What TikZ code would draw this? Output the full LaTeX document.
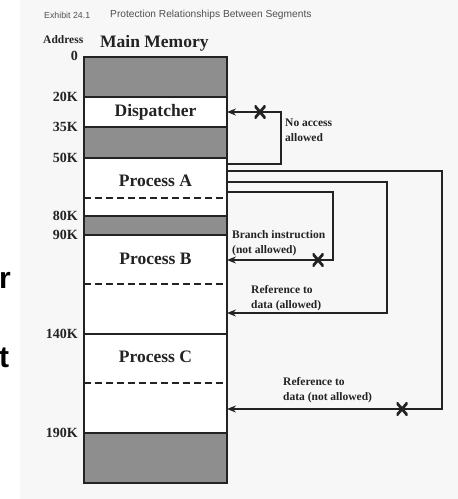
\documentclass[tikz,border=0pt]{standalone}
\usepackage{fontspec}
\setmainfont{Liberation Serif}
\newfontfamily\sansf{Liberation Sans}
\usetikzlibrary{arrows.meta,calc}
\definecolor{segfill}{RGB}{142,142,142}
\definecolor{bgc}{RGB}{247,247,247}
\definecolor{ink}{RGB}{35,35,35}
\definecolor{titlec}{RGB}{80,80,80}
\begin{document}
\begin{tikzpicture}[x=1pt,y=-1pt,
  seg/.style={draw=ink, line width=1.6pt, minimum width=143pt, inner sep=0pt, outer sep=0pt, anchor=north west},
  grayseg/.style={seg, fill=segfill},
  whiteseg/.style={seg, fill=white},
  segtext/.style={font=\fontsize{17.5}{20}\selectfont\bfseries, text=ink, inner sep=0pt},
  addr/.style={font=\fontsize{14}{16}\selectfont\bfseries, text=ink, anchor=east, inner sep=0pt},
  dashline/.style={draw=ink, line width=1.5pt, dash pattern=on 6.5pt off 4.5pt},
  conn/.style={draw=ink, line width=1.5pt, -{Stealth[length=9pt,width=7pt]}},
  note/.style={font=\fontsize{11.5}{14.5}\selectfont\bfseries, text=ink, align=left, anchor=west, inner sep=0pt},
  xmark/.style={minimum width=11pt, minimum height=13pt, inner sep=0pt,
    path picture={\draw[line width=2.8pt, ink]
      (path picture bounding box.north west) -- (path picture bounding box.south east)
      (path picture bounding box.north east) -- (path picture bounding box.south west);}},
  frag/.style={font=\sansf\fontsize{30}{30}\selectfont\bfseries, anchor=base west, inner sep=0pt}
]
\useasboundingbox (0,0) rectangle (458,499);
\fill[bgc] (20,0) rectangle (458,499);

% fragments at left edge
\node[frag] (fr1) at (-1,288) {r};
\node[frag] (fr2) at (-1,367) {t};

% titles
\node[font=\sansf\fontsize{8.8}{10}\selectfont, text=titlec, anchor=west, inner sep=0pt] (exh) at (44,15) {Exhibit 24.1};
\node[font=\sansf\fontsize{10.2}{11}\selectfont, text=titlec, anchor=west, inner sep=0pt] (ttl) at (110,15) {Protection Relationships Between Segments};
\node[font=\fontsize{11.5}{13}\selectfont\bfseries, text=ink, anchor=west, inner sep=0pt] (addrh) at (43,40) {Address};
\node[font=\fontsize{17.5}{20}\selectfont\bfseries, text=ink, anchor=west, inner sep=0pt] (mm) at (100,43) {Main Memory};

% memory segments
\node[grayseg, minimum height=40pt] (g0) at (84,57) {};
\node[whiteseg, minimum height=30pt] (disp) at (84,97) {};
\node[grayseg, minimum height=31pt] (g1) at (84,127) {};
\node[whiteseg, minimum height=58pt] (procA) at (84,158) {};
\node[grayseg, minimum height=19pt] (g2) at (84,216) {};
\node[whiteseg, minimum height=99pt] (procB) at (84,235) {};
\node[whiteseg, minimum height=99pt] (procC) at (84,334) {};
\node[grayseg, minimum height=50pt] (g3) at (84,433) {};

\draw[dashline] ([yshift=-40pt]procA.north west) -- ([yshift=-40pt]procA.north east);
\draw[dashline] ([yshift=-49pt]procB.north west) -- ([yshift=-49pt]procB.north east);
\draw[dashline] ([yshift=-49pt]procC.north west) -- ([yshift=-49pt]procC.north east);

\node[segtext] (tdisp) at (disp.center) {Dispatcher};
\node[segtext] (tA) at (155.5,181) {Process A};
\node[segtext] (tB) at (155.5,259) {Process B};
\node[segtext] (tC) at (155.5,357) {Process C};

% addresses
\node[addr] (a0) at (78,56) {0};
\node[addr] (a20) at (78,97) {20K};
\node[addr] (a35) at (78,127) {35K};
\node[addr] (a50) at (78,158) {50K};
\node[addr] (a80) at (78,216) {80K};
\node[addr] (a90) at (78,235) {90K};
\node[addr] (a140) at (78,334) {140K};
\node[addr] (a190) at (78,433) {190K};

% connectors
\draw[conn] ([yshift=-6pt]procA.north east) -- ++(54,0) |- (disp.east);
\draw[conn] ([yshift=-13pt]procA.north east) -- ++(215,0) |- ([yshift=-75pt]procC.north east);
\draw[conn] ([yshift=-24pt]procA.north east) -- ++(160,0) |- ([yshift=-78pt]procB.north east);
\draw[conn] ([yshift=-34pt]procA.north east) -- ++(106,0) |- ([yshift=-25pt]procB.north east);

% X marks
\node[xmark] (x1) at (260,112) {};
\node[xmark] (x2) at (318,260) {};
\node[xmark] (x3) at (402,409) {};

% notes
\node[note] (n1) at (285,130.5) {No access\\allowed};
\node[note] (n2) at (232,243) {Branch instruction\\(not allowed)};
\node[note] (n3) at (251,298) {Reference to\\data (allowed)};
\node[note] (n4) at (283,390) {Reference to\\data (not allowed)};
\end{tikzpicture}
\end{document}
